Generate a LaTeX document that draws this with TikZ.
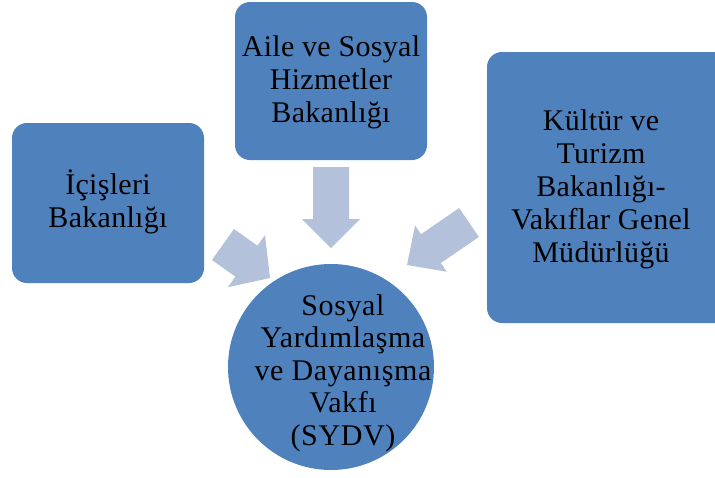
\documentclass[tikz,border=0pt]{standalone}
\usepackage{fontspec}
\setmainfont{Liberation Serif}
\usetikzlibrary{calc}
\definecolor{boxblue}{HTML}{4F81BD}
\definecolor{arrowblue}{HTML}{B3C2DA}
\newcommand{\blockarrow}[5]{%
  \path ($(#2)!#5!(#1)$) coordinate (hb);
  \fill[arrowblue] ($(#1)!#3!90:(#2)$) -- ($(hb)!#3!90:(#2)$) -- ($(hb)!#4!90:(#2)$) -- (#2)
    -- ($(hb)!#4!-90:(#2)$) -- ($(hb)!#3!-90:(#2)$) -- ($(#1)!#3!-90:(#2)$) -- cycle;
}
\begin{document}
\begin{tikzpicture}[x=1pt,y=-1pt,
  orgbox/.style={fill=boxblue,draw=none,rounded corners=15pt},
  lbl/.style={align=center,font=\fontsize{30}{33}\selectfont\addfontfeatures{LetterSpace=1},inner sep=0pt}]
\useasboundingbox (0,0) rectangle (715,477);
% boxes
\fill[orgbox] (12,123) rectangle (204,283);
\fill[orgbox] (235,2) rectangle (427,160);
\fill[orgbox] (487,52) rectangle (730,323);
\node[circle,fill=boxblue,minimum size=206pt,inner sep=0pt] (sydv) at (331,367) {};
% labels
\node[lbl] (ic) at (108,202) {İçişleri\\Bakanlığı};
\node[lbl] (aile) at (331,82) {Aile ve Sosyal\\Hizmetler\\Bakanlığı};
\node[lbl] (kt) at (601,189) {Kültür ve\\Turizm\\Bakanlığı-\\Vakıflar Genel\\Müdürlüğü};
\node[lbl,font=\fontsize{30}{32.5}\selectfont\addfontfeatures{LetterSpace=2}] (sydvt) at (343,373) {Sosyal\\Yardımlaşma\\ve Dayanışma\\Vakfı\\(SYDV)};
% arrows
\coordinate (t1) at (223,244.5); \coordinate (p1) at (270,278);
\coordinate (t2) at (331,167);   \coordinate (p2) at (331,248);
\coordinate (t3) at (469,222.5); \coordinate (p3) at (407,265);
\blockarrow{t1}{p1}{19pt}{32pt}{29pt}
\blockarrow{t2}{p2}{18pt}{29pt}{29pt}
\blockarrow{t3}{p3}{17.5pt}{28pt}{29pt}
\end{tikzpicture}
\end{document}
